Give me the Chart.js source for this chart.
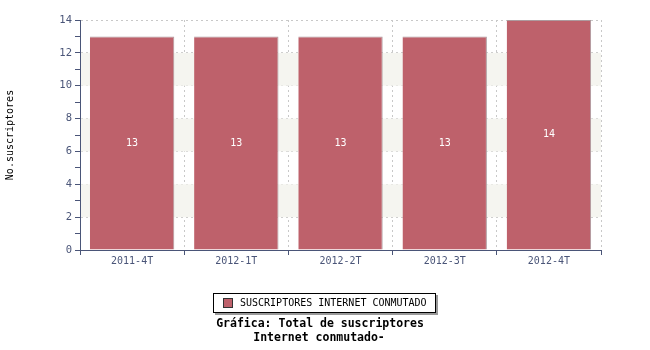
<!DOCTYPE html>
<html>
<head>
<meta charset="utf-8">
<script src="https://cdn.jsdelivr.net/npm/chart.js@4/dist/chart.umd.min.js"></script>
<style>
  html, body { margin: 0; padding: 0; background: #fff; }
  #wrap { width: 650px; height: 350px; }
</style>
</head>
<body>
<div id="wrap"><canvas id="chart" width="650" height="350"></canvas></div>
<script>
const periods = ['2011-4T', '2012-1T', '2012-2T', '2012-3T', '2012-4T'];
const suscriptores = [13, 13, 13, 13, 14];
const seriesName = 'SUSCRIPTORES INTERNET CONMUTADO';
const yTitle = 'No.suscriptores';
const titleLines = ['Gráfica: Total de suscriptores', 'Internet conmutado-'];

const barColor = '#be616b';
const axisColor = '#4a5578';
const gridColor = '#c8c8c8';
const mono = '"DejaVu Sans Mono", monospace';

// alternating grey bands behind the bars
const bandPlugin = {
  id: 'bands',
  beforeDatasetsDraw(chart) {
    const { ctx, chartArea, scales: { y } } = chart;
    ctx.save();
    ctx.fillStyle = '#f5f5f0';
    [[2, 4], [6, 8], [10, 12]].forEach(([a, b]) => {
      const top = y.getPixelForValue(b);
      const bot = y.getPixelForValue(a);
      ctx.fillRect(chartArea.left + 1, top, chartArea.width - 1, bot - top);
    });
    ctx.restore();
  }
};

// value labels, legend box and the title under the chart
const extrasPlugin = {
  id: 'extras',
  afterDatasetsDraw(chart) {
    const { ctx } = chart;
    const meta = chart.getDatasetMeta(0);
    ctx.save();
    ctx.font = '10px ' + mono;
    ctx.fillStyle = '#ffffff';
    ctx.textAlign = 'center';
    ctx.textBaseline = 'middle';
    meta.data.forEach((bar, i) => {
      ctx.fillText(String(suscriptores[i]), bar.x, (bar.y + bar.base) / 2);
    });
    ctx.restore();
  },
  afterDraw(chart) {
    const { ctx } = chart;
    ctx.save();
    // legend box with shadow
    const bx = 213, by = 293, bw = 223, bh = 20;
    ctx.fillStyle = '#999999';
    ctx.fillRect(bx + 2, by + 2, bw, bh);
    ctx.fillStyle = '#ffffff';
    ctx.fillRect(bx, by, bw, bh);
    ctx.strokeStyle = '#000000';
    ctx.lineWidth = 1;
    ctx.strokeRect(bx + 0.5, by + 0.5, bw - 1, bh - 1);
    ctx.fillStyle = barColor;
    ctx.fillRect(223, 298, 10, 10);
    ctx.strokeStyle = '#333333';
    ctx.strokeRect(223.5, 298.5, 9, 9);
    ctx.fillStyle = '#000000';
    ctx.font = '10px ' + mono;
    ctx.textAlign = 'left';
    ctx.textBaseline = 'middle';
    ctx.fillText(seriesName, 240, 303.5);
    // title
    ctx.font = 'bold 11.5px ' + mono;
    ctx.textAlign = 'center';
    ctx.fillText(titleLines[0], 320, 324);
    ctx.fillText(titleLines[1], 319, 338);
    ctx.restore();
  }
};

new Chart(document.getElementById('chart').getContext('2d'), {
  type: 'bar',
  data: {
    labels: periods,
    datasets: [{
      label: seriesName,
      data: suscriptores,
      backgroundColor: barColor,
      borderColor: '#ad9a9e',
      borderWidth: { top: 1, right: 1, left: 0, bottom: 0 },
      borderSkipped: 'bottom',
      barPercentage: 0.81,
      categoryPercentage: 1.0
    }]
  },
  options: {
    responsive: false,
    animation: false,
    layout: { padding: { left: 0, top: 20, right: 49, bottom: 0 } },
    plugins: {
      legend: { display: false },
      tooltip: { enabled: false }
    },
    scales: {
      x: {
        offset: true,
        grid: {
          offset: true,
          color: gridColor,
          tickColor: axisColor,
          tickBorderDash: [],
          tickLength: 5,
          drawOnChartArea: true
        },
        border: { display: true, color: axisColor, width: 1, dash: [2, 3] },
        ticks: {
          color: axisColor,
          font: { family: mono, size: 10 },
          padding: 0,
          maxRotation: 0
        },
        afterFit(scale) { scale.height = 100; }
      },
      y: {
        min: 0,
        max: 14,
        grid: {
          color: (c) => (c.tick && c.tick.value % 2 === 0 ? gridColor : 'rgba(0,0,0,0)'),
          tickColor: axisColor,
          tickBorderDash: [],
          tickLength: 5
        },
        border: { display: true, color: axisColor, width: 1, dash: [2, 3] },
        ticks: {
          stepSize: 1,
          autoSkip: false,
          color: axisColor,
          font: { family: mono, size: 10.5 },
          padding: 3,
          callback: (v) => (v % 2 === 0 ? String(v) : '')
        },
        title: {
          display: true,
          text: yTitle,
          color: '#000000',
          font: { family: mono, size: 10 },
          padding: { top: 4, bottom: 0 }
        },
        afterFit(scale) { scale.width = 80; }
      }
    }
  },
  plugins: [bandPlugin, extrasPlugin]
});
</script>
</body>
</html>
